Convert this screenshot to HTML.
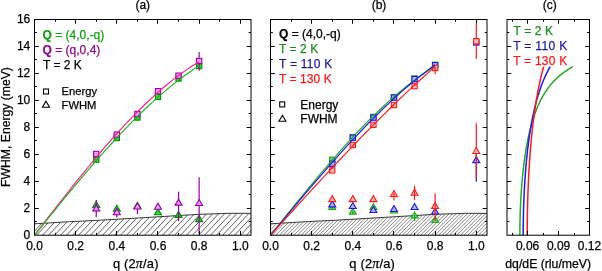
<!DOCTYPE html>
<html><head><meta charset="utf-8"><style>html,body{margin:0;padding:0;background:#fff;}svg{display:block;will-change:transform;}</style></head>
<body>
<svg width="602" height="271" viewBox="0 0 602 271" font-family='"Liberation Sans", sans-serif'>
<rect width="602" height="271" fill="#fff"/>
<clipPath id="ca"><polygon points="34.5,235.2 34.5,223.8 69.49,221.7 100.36,220.2 149.75,217.3 199.14,214.3 230.01,213.3 251,213.4 251,235.2"/></clipPath>
<g clip-path="url(#ca)"><path d="M0.6,235.2l27.98,-30M6.6,235.2l27.98,-30M12.6,235.2l27.98,-30M18.6,235.2l27.98,-30M24.6,235.2l27.98,-30M30.6,235.2l27.98,-30M36.6,235.2l27.98,-30M42.6,235.2l27.98,-30M48.6,235.2l27.98,-30M54.6,235.2l27.98,-30M60.6,235.2l27.98,-30M66.6,235.2l27.98,-30M72.6,235.2l27.98,-30M78.6,235.2l27.98,-30M84.6,235.2l27.98,-30M90.6,235.2l27.98,-30M96.6,235.2l27.98,-30M102.6,235.2l27.98,-30M108.6,235.2l27.98,-30M114.6,235.2l27.98,-30M120.6,235.2l27.98,-30M126.6,235.2l27.98,-30M132.6,235.2l27.98,-30M138.6,235.2l27.98,-30M144.6,235.2l27.98,-30M150.6,235.2l27.98,-30M156.6,235.2l27.98,-30M162.6,235.2l27.98,-30M168.6,235.2l27.98,-30M174.6,235.2l27.98,-30M180.6,235.2l27.98,-30M186.6,235.2l27.98,-30M192.6,235.2l27.98,-30M198.6,235.2l27.98,-30M204.6,235.2l27.98,-30M210.6,235.2l27.98,-30M216.6,235.2l27.98,-30M222.6,235.2l27.98,-30M228.6,235.2l27.98,-30M234.6,235.2l27.98,-30M240.6,235.2l27.98,-30M246.6,235.2l27.98,-30" stroke="#2a2a2a" stroke-width="0.75" fill="none"/></g>
<polyline points="34.5,223.8 69.49,221.7 100.36,220.2 149.75,217.3 199.14,214.3 230.01,213.3 251,213.4" fill="none" stroke="#222" stroke-width="0.9"/>
<path d="M96.24,201.4L99.74,207.4L92.74,207.4Z" fill="#33d633" stroke="#008c00" stroke-width="1.1" stroke-linejoin="miter"/>
<path d="M116.82,205.3L120.32,211.3L113.32,211.3Z" fill="#33d633" stroke="#008c00" stroke-width="1.1" stroke-linejoin="miter"/>
<path d="M137.4,202.3L140.9,208.3L133.9,208.3Z" fill="#33d633" stroke="#008c00" stroke-width="1.1" stroke-linejoin="miter"/>
<path d="M157.98,208.8L161.48,214.8L154.48,214.8Z" fill="#33d633" stroke="#008c00" stroke-width="1.1" stroke-linejoin="miter"/>
<path d="M178.56,211.4L182.06,217.4L175.06,217.4Z" fill="#33d633" stroke="#008c00" stroke-width="1.1" stroke-linejoin="miter"/>
<path d="M199.14,215.6L202.64,221.6L195.64,221.6Z" fill="#33d633" stroke="#008c00" stroke-width="1.1" stroke-linejoin="miter"/>
<path d="M178.56,214V221" stroke="#008c00" stroke-width="1.2"/>
<path d="M96.24,200V217.3" stroke="#9900aa" stroke-width="1.2"/>
<path d="M116.82,208V217.3" stroke="#9900aa" stroke-width="1.2"/>
<path d="M137.4,206V213.9" stroke="#9900aa" stroke-width="1.2"/>
<path d="M178.56,191.7V221" stroke="#9900aa" stroke-width="1.2"/>
<path d="M199.14,177.2V234" stroke="#9900aa" stroke-width="1.2"/>
<path d="M96.24,204.9L99.74,210.9L92.74,210.9Z" fill="#f39af3" stroke="#9900aa" stroke-width="1.1" stroke-linejoin="miter"/>
<path d="M116.82,208.7L120.32,214.7L113.32,214.7Z" fill="#f39af3" stroke="#9900aa" stroke-width="1.1" stroke-linejoin="miter"/>
<path d="M137.4,203L140.9,209L133.9,209Z" fill="#f39af3" stroke="#9900aa" stroke-width="1.1" stroke-linejoin="miter"/>
<path d="M157.98,203.2L161.48,209.2L154.48,209.2Z" fill="#f39af3" stroke="#9900aa" stroke-width="1.1" stroke-linejoin="miter"/>
<path d="M178.56,199.1L182.06,205.1L175.06,205.1Z" fill="#f39af3" stroke="#9900aa" stroke-width="1.1" stroke-linejoin="miter"/>
<path d="M199.14,199.5L202.64,205.5L195.64,205.5Z" fill="#f39af3" stroke="#9900aa" stroke-width="1.1" stroke-linejoin="miter"/>
<rect x="93.59" y="156.95" width="5.3" height="5.3" fill="#33d633" stroke="#008c00" stroke-width="1.1"/>
<rect x="114.17" y="135.35" width="5.3" height="5.3" fill="#33d633" stroke="#008c00" stroke-width="1.1"/>
<rect x="134.75" y="114.85" width="5.3" height="5.3" fill="#33d633" stroke="#008c00" stroke-width="1.1"/>
<rect x="155.33" y="94.25" width="5.3" height="5.3" fill="#33d633" stroke="#008c00" stroke-width="1.1"/>
<rect x="175.91" y="75.85" width="5.3" height="5.3" fill="#33d633" stroke="#008c00" stroke-width="1.1"/>
<rect x="196.49" y="63.45" width="5.3" height="5.3" fill="#33d633" stroke="#008c00" stroke-width="1.1"/>
<path d="M199.14,52V70.7" stroke="#9900aa" stroke-width="1.2"/>
<rect x="93.59" y="151.35" width="5.3" height="5.3" fill="#f39af3" stroke="#9900aa" stroke-width="1.1"/>
<rect x="114.17" y="131.95" width="5.3" height="5.3" fill="#f39af3" stroke="#9900aa" stroke-width="1.1"/>
<rect x="134.75" y="111.35" width="5.3" height="5.3" fill="#f39af3" stroke="#9900aa" stroke-width="1.1"/>
<rect x="155.33" y="88.55" width="5.3" height="5.3" fill="#f39af3" stroke="#9900aa" stroke-width="1.1"/>
<rect x="175.91" y="73.05" width="5.3" height="5.3" fill="#f39af3" stroke="#9900aa" stroke-width="1.1"/>
<rect x="196.49" y="58.35" width="5.3" height="5.3" fill="#f39af3" stroke="#9900aa" stroke-width="1.1"/>
<path d="M34.5,235.2 L38.62,229.86 L42.73,224.53 L46.85,219.2 L50.96,213.88 L55.08,208.59 L59.2,203.31 L63.31,198.05 L67.43,192.82 L71.54,187.63 L75.66,182.47 L79.78,177.34 L83.89,172.27 L88.01,167.24 L92.12,162.26 L96.24,157.33 L100.36,152.46 L104.47,147.66 L108.59,142.91 L112.7,138.24 L116.82,133.64 L120.94,129.12 L125.05,124.67 L129.17,120.31 L133.28,116.04 L137.4,111.85 L141.52,107.75 L145.63,103.75 L149.75,99.85 L153.86,96.05 L157.98,92.35 L162.1,88.76 L166.21,85.28 L170.33,81.91 L174.44,78.65 L178.56,75.52 L182.68,72.5 L186.79,69.6 L190.91,66.82 L195.02,64.18 L199.14,61.65" stroke="#ff1a8c" stroke-width="1.15" fill="none"/>
<path d="M34.5,235.2 L38.62,230.11 L42.73,225.02 L46.85,219.93 L50.96,214.86 L55.08,209.8 L59.2,204.76 L63.31,199.73 L67.43,194.73 L71.54,189.76 L75.66,184.82 L79.78,179.91 L83.89,175.04 L88.01,170.21 L92.12,165.42 L96.24,160.68 L100.36,155.99 L104.47,151.35 L108.59,146.76 L112.7,142.24 L116.82,137.78 L120.94,133.38 L125.05,129.05 L129.17,124.79 L133.28,120.6 L137.4,116.49 L141.52,112.46 L145.63,108.51 L149.75,104.64 L153.86,100.87 L157.98,97.18 L162.1,93.58 L166.21,90.08 L170.33,86.67 L174.44,83.36 L178.56,80.16 L182.68,77.05 L186.79,74.06 L190.91,71.16 L195.02,68.38 L199.14,65.71" stroke="#1db31d" stroke-width="1.15" fill="none"/>
<rect x="34.5" y="19.5" width="216.5" height="215.7" fill="none" stroke="#000" stroke-width="1.0"/>
<path d="M75.5,235.2v-4.2M75.5,19.5v4.2M116.5,235.2v-4.2M116.5,19.5v4.2M157.5,235.2v-4.2M157.5,19.5v4.2M199.5,235.2v-4.2M199.5,19.5v4.2M240.5,235.2v-4.2M240.5,19.5v4.2M55.5,235.2v-2.3M55.5,19.5v2.3M96.5,235.2v-2.3M96.5,19.5v2.3M137.5,235.2v-2.3M137.5,19.5v2.3M178.5,235.2v-2.3M178.5,19.5v2.3M219.5,235.2v-2.3M219.5,19.5v2.3M34.5,221.5h2.3M251,221.5h-2.3M34.5,208.5h4.3M251,208.5h-4.3M34.5,194.5h2.3M251,194.5h-2.3M34.5,181.5h4.3M251,181.5h-4.3M34.5,167.5h2.3M251,167.5h-2.3M34.5,154.5h4.3M251,154.5h-4.3M34.5,140.5h2.3M251,140.5h-2.3M34.5,127.5h4.3M251,127.5h-4.3M34.5,113.5h2.3M251,113.5h-2.3M34.5,100.5h4.3M251,100.5h-4.3M34.5,86.5h2.3M251,86.5h-2.3M34.5,73.5h4.3M251,73.5h-4.3M34.5,59.5h2.3M251,59.5h-2.3M34.5,46.5h4.3M251,46.5h-4.3M34.5,32.5h2.3M251,32.5h-2.3" stroke="#000" stroke-width="1" fill="none"/>
<clipPath id="cb"><polygon points="270.5,235.2 270.5,223.8 305.49,221.7 336.36,220.2 385.75,217.3 435.14,214.3 466.01,213.3 487,213.4 487,235.2"/></clipPath>
<g clip-path="url(#cb)"><path d="M232.32,235.2l30,-30M235.94,235.2l30,-30M239.56,235.2l30,-30M243.18,235.2l30,-30M246.8,235.2l30,-30M250.42,235.2l30,-30M254.04,235.2l30,-30M257.66,235.2l30,-30M261.28,235.2l30,-30M264.9,235.2l30,-30M268.52,235.2l30,-30M272.14,235.2l30,-30M275.76,235.2l30,-30M279.38,235.2l30,-30M283,235.2l30,-30M286.62,235.2l30,-30M290.24,235.2l30,-30M293.86,235.2l30,-30M297.48,235.2l30,-30M301.1,235.2l30,-30M304.72,235.2l30,-30M308.34,235.2l30,-30M311.96,235.2l30,-30M315.58,235.2l30,-30M319.2,235.2l30,-30M322.82,235.2l30,-30M326.44,235.2l30,-30M330.06,235.2l30,-30M333.68,235.2l30,-30M337.3,235.2l30,-30M340.92,235.2l30,-30M344.54,235.2l30,-30M348.16,235.2l30,-30M351.78,235.2l30,-30M355.4,235.2l30,-30M359.02,235.2l30,-30M362.64,235.2l30,-30M366.26,235.2l30,-30M369.88,235.2l30,-30M373.5,235.2l30,-30M377.12,235.2l30,-30M380.74,235.2l30,-30M384.36,235.2l30,-30M387.98,235.2l30,-30M391.6,235.2l30,-30M395.22,235.2l30,-30M398.84,235.2l30,-30M402.46,235.2l30,-30M406.08,235.2l30,-30M409.7,235.2l30,-30M413.32,235.2l30,-30M416.94,235.2l30,-30M420.56,235.2l30,-30M424.18,235.2l30,-30M427.8,235.2l30,-30M431.42,235.2l30,-30M435.04,235.2l30,-30M438.66,235.2l30,-30M442.28,235.2l30,-30M445.9,235.2l30,-30M449.52,235.2l30,-30M453.14,235.2l30,-30M456.76,235.2l30,-30M460.38,235.2l30,-30M464,235.2l30,-30M467.62,235.2l30,-30M471.24,235.2l30,-30M474.86,235.2l30,-30M478.48,235.2l30,-30M482.1,235.2l30,-30M485.72,235.2l30,-30" stroke="#333" stroke-width="0.6" fill="none"/></g>
<polyline points="270.5,223.8 305.49,221.7 336.36,220.2 385.75,217.3 435.14,214.3 466.01,213.3 487,213.4" fill="none" stroke="#222" stroke-width="0.9"/>
<path d="M332.24,203.5L335.74,209.5L328.74,209.5Z" fill="#70d070" stroke="#1ea81e" stroke-width="1.1" stroke-linejoin="miter"/>
<path d="M352.82,208.3L356.32,214.3L349.32,214.3Z" fill="#70d070" stroke="#1ea81e" stroke-width="1.1" stroke-linejoin="miter"/>
<path d="M373.4,203.5L376.9,209.5L369.9,209.5Z" fill="#70d070" stroke="#1ea81e" stroke-width="1.1" stroke-linejoin="miter"/>
<path d="M393.98,207L397.48,213L390.48,213Z" fill="#70d070" stroke="#1ea81e" stroke-width="1.1" stroke-linejoin="miter"/>
<path d="M414.56,212L418.06,218L411.06,218Z" fill="#70d070" stroke="#1ea81e" stroke-width="1.1" stroke-linejoin="miter"/>
<path d="M435.14,216.5L438.64,222.5L431.64,222.5Z" fill="#70d070" stroke="#1ea81e" stroke-width="1.1" stroke-linejoin="miter"/>
<path d="M332.24,206V209.9" stroke="#1ea81e" stroke-width="1.2"/>
<path d="M352.82,211V214" stroke="#1ea81e" stroke-width="1.2"/>
<path d="M414.56,215V221" stroke="#1ea81e" stroke-width="1.2"/>
<path d="M332.24,200.9L335.74,206.9L328.74,206.9Z" fill="#b0b0f8" stroke="#1a1ae0" stroke-width="1.1" stroke-linejoin="miter"/>
<path d="M352.82,202.5L356.32,208.5L349.32,208.5Z" fill="#b0b0f8" stroke="#1a1ae0" stroke-width="1.1" stroke-linejoin="miter"/>
<path d="M373.4,206.5L376.9,212.5L369.9,212.5Z" fill="#b0b0f8" stroke="#1a1ae0" stroke-width="1.1" stroke-linejoin="miter"/>
<path d="M393.98,205.5L397.48,211.5L390.48,211.5Z" fill="#b0b0f8" stroke="#1a1ae0" stroke-width="1.1" stroke-linejoin="miter"/>
<path d="M414.56,203.5L418.06,209.5L411.06,209.5Z" fill="#b0b0f8" stroke="#1a1ae0" stroke-width="1.1" stroke-linejoin="miter"/>
<path d="M435.14,208L438.64,214L431.64,214Z" fill="#b0b0f8" stroke="#1a1ae0" stroke-width="1.1" stroke-linejoin="miter"/>
<path d="M332.24,195.6L335.74,201.6L328.74,201.6Z" fill="#ffb8b8" stroke="#ff1a1a" stroke-width="1.1" stroke-linejoin="miter"/>
<path d="M352.82,195.6L356.32,201.6L349.32,201.6Z" fill="#ffb8b8" stroke="#ff1a1a" stroke-width="1.1" stroke-linejoin="miter"/>
<path d="M373.4,195.6L376.9,201.6L369.9,201.6Z" fill="#ffb8b8" stroke="#ff1a1a" stroke-width="1.1" stroke-linejoin="miter"/>
<path d="M393.98,190.5L397.48,196.5L390.48,196.5Z" fill="#ffb8b8" stroke="#ff1a1a" stroke-width="1.1" stroke-linejoin="miter"/>
<path d="M414.56,189.2L418.06,195.2L411.06,195.2Z" fill="#ffb8b8" stroke="#ff1a1a" stroke-width="1.1" stroke-linejoin="miter"/>
<path d="M435.14,202.5L438.64,208.5L431.64,208.5Z" fill="#ffb8b8" stroke="#ff1a1a" stroke-width="1.1" stroke-linejoin="miter"/>
<path d="M393.98,193V200.5" stroke="#ff1a1a" stroke-width="1.2"/>
<path d="M414.56,185.5V199.9" stroke="#ff1a1a" stroke-width="1.2"/>
<path d="M435.14,193.3V221" stroke="#ff1a1a" stroke-width="1.2"/>
<path d="M476.3,150V181.7" stroke="#1a1ae0" stroke-width="1.2"/>
<path d="M476.3,156.6L479.8,162.6L472.8,162.6Z" fill="#b0b0f8" stroke="#1a1ae0" stroke-width="1.1" stroke-linejoin="miter"/>
<path d="M476.3,123.3V178.4" stroke="#ff1a1a" stroke-width="1.2"/>
<path d="M476.3,147.5L479.8,153.5L472.8,153.5Z" fill="#ffb8b8" stroke="#ff1a1a" stroke-width="1.1" stroke-linejoin="miter"/>
<rect x="329.59" y="157.15" width="5.3" height="5.3" fill="#70d070" stroke="#1ea81e" stroke-width="1.1"/>
<rect x="350.17" y="134.55" width="5.3" height="5.3" fill="#70d070" stroke="#1ea81e" stroke-width="1.1"/>
<rect x="370.75" y="114.35" width="5.3" height="5.3" fill="#70d070" stroke="#1ea81e" stroke-width="1.1"/>
<rect x="391.33" y="94.55" width="5.3" height="5.3" fill="#70d070" stroke="#1ea81e" stroke-width="1.1"/>
<rect x="411.91" y="75.85" width="5.3" height="5.3" fill="#70d070" stroke="#1ea81e" stroke-width="1.1"/>
<rect x="432.49" y="62.15" width="5.3" height="5.3" fill="#70d070" stroke="#1ea81e" stroke-width="1.1"/>
<rect x="329.59" y="161.05" width="5.3" height="5.3" fill="#b0b0f8" stroke="#1a1ae0" stroke-width="1.1"/>
<rect x="350.17" y="135.05" width="5.3" height="5.3" fill="#b0b0f8" stroke="#1a1ae0" stroke-width="1.1"/>
<rect x="370.75" y="114.95" width="5.3" height="5.3" fill="#b0b0f8" stroke="#1a1ae0" stroke-width="1.1"/>
<rect x="391.33" y="94.95" width="5.3" height="5.3" fill="#b0b0f8" stroke="#1a1ae0" stroke-width="1.1"/>
<rect x="411.91" y="76.45" width="5.3" height="5.3" fill="#b0b0f8" stroke="#1a1ae0" stroke-width="1.1"/>
<rect x="432.49" y="62.55" width="5.3" height="5.3" fill="#b0b0f8" stroke="#1a1ae0" stroke-width="1.1"/>
<rect x="329.59" y="167.75" width="5.3" height="5.3" fill="#ffb8b8" stroke="#ff1a1a" stroke-width="1.1"/>
<rect x="350.17" y="142.35" width="5.3" height="5.3" fill="#ffb8b8" stroke="#ff1a1a" stroke-width="1.1"/>
<rect x="370.75" y="122.25" width="5.3" height="5.3" fill="#ffb8b8" stroke="#ff1a1a" stroke-width="1.1"/>
<rect x="391.33" y="102.35" width="5.3" height="5.3" fill="#ffb8b8" stroke="#ff1a1a" stroke-width="1.1"/>
<rect x="411.91" y="83.45" width="5.3" height="5.3" fill="#ffb8b8" stroke="#ff1a1a" stroke-width="1.1"/>
<rect x="432.49" y="65.35" width="5.3" height="5.3" fill="#ffb8b8" stroke="#ff1a1a" stroke-width="1.1"/>
<path d="M435.14,67V74.3" stroke="#ff1a1a" stroke-width="1.2"/>
<rect x="473.65" y="39.85" width="5.3" height="5.3" fill="#b0b0f8" stroke="#1a1ae0" stroke-width="1.1"/>
<path d="M476.3,24.1V58.9" stroke="#ff1a1a" stroke-width="1.2"/>
<rect x="473.65" y="38.55" width="5.3" height="5.3" fill="#ffb8b8" stroke="#ff1a1a" stroke-width="1.1"/>
<path d="M270.5,235.2 L274.62,230.05 L278.73,224.91 L282.85,219.78 L286.96,214.65 L291.08,209.54 L295.2,204.45 L299.31,199.38 L303.43,194.34 L307.54,189.32 L311.66,184.34 L315.78,179.4 L319.89,174.49 L324.01,169.63 L328.12,164.81 L332.24,160.05 L336.36,155.33 L340.47,150.68 L344.59,146.08 L348.7,141.55 L352.82,137.09 L356.94,132.69 L361.05,128.37 L365.17,124.12 L369.28,119.96 L373.4,115.87 L377.52,111.88 L381.63,107.96 L385.75,104.14 L389.86,100.42 L393.98,96.79 L398.1,93.25 L402.21,89.82 L406.33,86.49 L410.44,83.27 L414.56,80.16 L418.68,77.16 L422.79,74.27 L426.91,71.49 L431.02,68.83 L435.14,66.29" stroke="#1ea81e" stroke-width="1.15" fill="none"/>
<path d="M270.5,235.2 L274.62,230.25 L278.73,225.3 L282.85,220.36 L286.96,215.42 L291.08,210.5 L295.2,205.58 L299.31,200.69 L303.43,195.81 L307.54,190.96 L311.66,186.13 L315.78,181.32 L319.89,176.55 L324.01,171.81 L328.12,167.1 L332.24,162.43 L336.36,157.8 L340.47,153.21 L344.59,148.67 L348.7,144.18 L352.82,139.73 L356.94,135.34 L361.05,131 L365.17,126.72 L369.28,122.5 L373.4,118.33 L377.52,114.24 L381.63,110.21 L385.75,106.25 L389.86,102.36 L393.98,98.54 L398.1,94.79 L402.21,91.13 L406.33,87.54 L410.44,84.03 L414.56,80.61 L418.68,77.27 L422.79,74.02 L426.91,70.85 L431.02,67.78 L435.14,64.79" stroke="#1a1ae0" stroke-width="1.15" fill="none"/>
<path d="M270.5,235.2 L274.62,230.66 L278.73,226.12 L282.85,221.58 L286.96,217.04 L291.08,212.51 L295.2,207.99 L299.31,203.47 L303.43,198.97 L307.54,194.47 L311.66,189.98 L315.78,185.51 L319.89,181.05 L324.01,176.6 L328.12,172.18 L332.24,167.76 L336.36,163.37 L340.47,159 L344.59,154.65 L348.7,150.32 L352.82,146.01 L356.94,141.73 L361.05,137.47 L365.17,133.24 L369.28,129.04 L373.4,124.87 L377.52,120.73 L381.63,116.62 L385.75,112.54 L389.86,108.5 L393.98,104.49 L398.1,100.52 L402.21,96.58 L406.33,92.68 L410.44,88.83 L414.56,85.01 L418.68,81.23 L422.79,77.5 L426.91,73.81 L431.02,70.16 L435.14,66.56" stroke="#ff1a1a" stroke-width="1.15" fill="none"/>
<rect x="270.5" y="19.5" width="216.5" height="215.7" fill="none" stroke="#000" stroke-width="1.0"/>
<path d="M311.5,235.2v-4.2M311.5,19.5v4.2M352.5,235.2v-4.2M352.5,19.5v4.2M393.5,235.2v-4.2M393.5,19.5v4.2M435.5,235.2v-4.2M435.5,19.5v4.2M476.5,235.2v-4.2M476.5,19.5v4.2M291.5,235.2v-2.3M291.5,19.5v2.3M332.5,235.2v-2.3M332.5,19.5v2.3M373.5,235.2v-2.3M373.5,19.5v2.3M414.5,235.2v-2.3M414.5,19.5v2.3M455.5,235.2v-2.3M455.5,19.5v2.3M270.5,221.5h2.3M487,221.5h-2.3M270.5,208.5h4.3M487,208.5h-4.3M270.5,194.5h2.3M487,194.5h-2.3M270.5,181.5h4.3M487,181.5h-4.3M270.5,167.5h2.3M487,167.5h-2.3M270.5,154.5h4.3M487,154.5h-4.3M270.5,140.5h2.3M487,140.5h-2.3M270.5,127.5h4.3M487,127.5h-4.3M270.5,113.5h2.3M487,113.5h-2.3M270.5,100.5h4.3M487,100.5h-4.3M270.5,86.5h2.3M487,86.5h-2.3M270.5,73.5h4.3M487,73.5h-4.3M270.5,59.5h2.3M487,59.5h-2.3M270.5,46.5h4.3M487,46.5h-4.3M270.5,32.5h2.3M487,32.5h-2.3" stroke="#000" stroke-width="1" fill="none"/>
<path d="M519.89,235.2 L519.9,232.39 L519.91,229.58 L519.94,226.77 L519.98,223.97 L520.03,221.16 L520.09,218.35 L520.17,215.54 L520.25,212.73 L520.35,209.92 L520.46,207.12 L520.58,204.31 L520.71,201.5 L520.86,198.69 L521.02,195.88 L521.2,193.07 L521.38,190.27 L521.58,187.46 L521.8,184.65 L522.03,181.84 L522.28,179.03 L522.54,176.22 L522.82,173.42 L523.12,170.61 L523.43,167.8 L523.77,164.99 L524.12,162.18 L524.5,159.38 L524.9,156.57 L525.32,153.76 L525.76,150.95 L526.23,148.14 L526.73,145.33 L527.25,142.52 L527.81,139.72 L528.4,136.91 L529.03,134.1 L529.69,131.29 L530.39,128.48 L531.14,125.67 L531.93,122.87 L532.77,120.06 L533.67,117.25 L534.63,114.44 L535.66,111.63 L536.75,108.82 L537.93,106.02 L539.2,103.21 L540.56,100.4 L542.04,97.59 L543.64,94.78 L545.38,91.97 L547.27,89.17 L549.36,86.36 L551.65,83.55 L554.2,80.74 L557.04,77.93 L560.23,75.12 L563.85,72.32 L567.99,69.51 L572.79,66.7" stroke="#22aa22" stroke-width="1.5" fill="none"/>
<path d="M523.19,235.2 L523.19,232.39 L523.21,229.58 L523.23,226.77 L523.26,223.97 L523.3,221.16 L523.35,218.35 L523.4,215.54 L523.47,212.73 L523.54,209.92 L523.62,207.12 L523.72,204.31 L523.82,201.5 L523.93,198.69 L524.05,195.88 L524.18,193.07 L524.32,190.27 L524.47,187.46 L524.63,184.65 L524.8,181.84 L524.98,179.03 L525.18,176.22 L525.38,173.42 L525.6,170.61 L525.83,167.8 L526.07,164.99 L526.33,162.18 L526.59,159.38 L526.87,156.57 L527.17,153.76 L527.48,150.95 L527.81,148.14 L528.15,145.33 L528.51,142.52 L528.89,139.72 L529.29,136.91 L529.7,134.1 L530.14,131.29 L530.6,128.48 L531.08,125.67 L531.58,122.87 L532.11,120.06 L532.66,117.25 L533.24,114.44 L533.86,111.63 L534.5,108.82 L535.18,106.02 L535.89,103.21 L536.65,100.4 L537.44,97.59 L538.28,94.78 L539.17,91.97 L540.11,89.17 L541.1,86.36 L542.16,83.55 L543.28,80.74 L544.48,77.93 L545.75,75.12 L547.12,72.32 L548.58,69.51 L550.15,66.7" stroke="#1a1af0" stroke-width="1.5" fill="none"/>
<path d="M527.21,235.2 L527.22,232.39 L527.23,229.58 L527.24,226.77 L527.26,223.97 L527.29,221.16 L527.33,218.35 L527.37,215.54 L527.42,212.73 L527.47,209.92 L527.54,207.12 L527.61,204.31 L527.68,201.5 L527.76,198.69 L527.85,195.88 L527.95,193.07 L528.05,190.27 L528.16,187.46 L528.28,184.65 L528.41,181.84 L528.54,179.03 L528.68,176.22 L528.83,173.42 L528.99,170.61 L529.15,167.8 L529.33,164.99 L529.51,162.18 L529.7,159.38 L529.9,156.57 L530.11,153.76 L530.33,150.95 L530.56,148.14 L530.8,145.33 L531.05,142.52 L531.31,139.72 L531.58,136.91 L531.86,134.1 L532.16,131.29 L532.46,128.48 L532.78,125.67 L533.11,122.87 L533.46,120.06 L533.82,117.25 L534.19,114.44 L534.58,111.63 L534.99,108.82 L535.41,106.02 L535.85,103.21 L536.31,100.4 L536.79,97.59 L537.28,94.78 L537.8,91.97 L538.34,89.17 L538.9,86.36 L539.49,83.55 L540.11,80.74 L540.75,77.93 L541.42,75.12 L542.12,72.32 L542.85,69.51 L543.62,66.7" stroke="#ff1a1a" stroke-width="1.5" fill="none"/>
<rect x="507" y="19.5" width="82.5" height="215.7" fill="none" stroke="#000" stroke-width="1.0"/>
<path d="M527.5,235.2v-4.2M527.5,19.5v4.2M558.5,235.2v-4.2M558.5,19.5v4.2M589.5,235.2v-4.2M589.5,19.5v4.2M512.5,235.2v-2.3M512.5,19.5v2.3M543.5,235.2v-2.3M543.5,19.5v2.3M574.5,235.2v-2.3M574.5,19.5v2.3M507,221.5h2.3M589.5,221.5h-2.3M507,208.5h4.3M589.5,208.5h-4.3M507,194.5h2.3M589.5,194.5h-2.3M507,181.5h4.3M589.5,181.5h-4.3M507,167.5h2.3M589.5,167.5h-2.3M507,154.5h4.3M589.5,154.5h-4.3M507,140.5h2.3M589.5,140.5h-2.3M507,127.5h4.3M589.5,127.5h-4.3M507,113.5h2.3M589.5,113.5h-2.3M507,100.5h4.3M589.5,100.5h-4.3M507,86.5h2.3M589.5,86.5h-2.3M507,73.5h4.3M589.5,73.5h-4.3M507,59.5h2.3M589.5,59.5h-2.3M507,46.5h4.3M589.5,46.5h-4.3M507,32.5h2.3M589.5,32.5h-2.3" stroke="#000" stroke-width="1" fill="none"/>
<text x="30.3" y="238.8" font-size="12" fill="#000" stroke="#000" stroke-width="0.25" text-anchor="end" >0</text>
<text x="30.3" y="211.84" font-size="12" fill="#000" stroke="#000" stroke-width="0.25" text-anchor="end" >2</text>
<text x="30.3" y="184.88" font-size="12" fill="#000" stroke="#000" stroke-width="0.25" text-anchor="end" >4</text>
<text x="30.3" y="157.92" font-size="12" fill="#000" stroke="#000" stroke-width="0.25" text-anchor="end" >6</text>
<text x="30.3" y="130.96" font-size="12" fill="#000" stroke="#000" stroke-width="0.25" text-anchor="end" >8</text>
<text x="30.3" y="104" font-size="12" fill="#000" stroke="#000" stroke-width="0.25" text-anchor="end" >10</text>
<text x="30.3" y="77.04" font-size="12" fill="#000" stroke="#000" stroke-width="0.25" text-anchor="end" >12</text>
<text x="30.3" y="50.08" font-size="12" fill="#000" stroke="#000" stroke-width="0.25" text-anchor="end" >14</text>
<text x="30.3" y="23.12" font-size="12" fill="#000" stroke="#000" stroke-width="0.25" text-anchor="end" >16</text>
<text x="34.5" y="249.8" font-size="12" fill="#000" stroke="#000" stroke-width="0.25" text-anchor="middle" >0.0</text>
<text x="270.5" y="249.8" font-size="12" fill="#000" stroke="#000" stroke-width="0.25" text-anchor="middle" >0.0</text>
<text x="75.66" y="249.8" font-size="12" fill="#000" stroke="#000" stroke-width="0.25" text-anchor="middle" >0.2</text>
<text x="311.66" y="249.8" font-size="12" fill="#000" stroke="#000" stroke-width="0.25" text-anchor="middle" >0.2</text>
<text x="116.82" y="249.8" font-size="12" fill="#000" stroke="#000" stroke-width="0.25" text-anchor="middle" >0.4</text>
<text x="352.82" y="249.8" font-size="12" fill="#000" stroke="#000" stroke-width="0.25" text-anchor="middle" >0.4</text>
<text x="157.98" y="249.8" font-size="12" fill="#000" stroke="#000" stroke-width="0.25" text-anchor="middle" >0.6</text>
<text x="393.98" y="249.8" font-size="12" fill="#000" stroke="#000" stroke-width="0.25" text-anchor="middle" >0.6</text>
<text x="199.14" y="249.8" font-size="12" fill="#000" stroke="#000" stroke-width="0.25" text-anchor="middle" >0.8</text>
<text x="435.14" y="249.8" font-size="12" fill="#000" stroke="#000" stroke-width="0.25" text-anchor="middle" >0.8</text>
<text x="240.3" y="249.8" font-size="12" fill="#000" stroke="#000" stroke-width="0.25" text-anchor="middle" >1.0</text>
<text x="476.3" y="249.8" font-size="12" fill="#000" stroke="#000" stroke-width="0.25" text-anchor="middle" >1.0</text>
<text x="527.62" y="249.8" font-size="12" fill="#000" stroke="#000" stroke-width="0.25" text-anchor="middle" >0.06</text>
<text x="558.56" y="249.8" font-size="12" fill="#000" stroke="#000" stroke-width="0.25" text-anchor="middle" >0.09</text>
<text x="589.5" y="249.8" font-size="12" fill="#000" stroke="#000" stroke-width="0.25" text-anchor="middle" >0.12</text>
<text x="135.7" y="268" font-size="12.9" fill="#000" stroke="#000" stroke-width="0.25" text-anchor="middle" textLength="45.5" lengthAdjust="spacing">q (2<tspan font-family="&quot;Liberation Serif&quot;, serif" font-style="italic" font-size="14">&#960;</tspan>/a)</text>
<text x="372.1" y="268" font-size="12.9" fill="#000" stroke="#000" stroke-width="0.25" text-anchor="middle" textLength="45.5" lengthAdjust="spacing">q (2<tspan font-family="&quot;Liberation Serif&quot;, serif" font-style="italic" font-size="14">&#960;</tspan>/a)</text>
<text x="548.2" y="268" font-size="12.25" fill="#000" stroke="#000" stroke-width="0.25" text-anchor="middle" >dq/dE (rlu/meV)</text>
<text x="142.8" y="9.3" font-size="12" fill="#000" stroke="#000" stroke-width="0.25" text-anchor="middle" >(a)</text>
<text x="379" y="9.3" font-size="12" fill="#000" stroke="#000" stroke-width="0.25" text-anchor="middle" >(b)</text>
<text x="549.8" y="9.3" font-size="12" fill="#000" stroke="#000" stroke-width="0.25" text-anchor="middle" >(c)</text>
<text transform="translate(9.7,127.0) rotate(-90)" font-size="12.2" text-anchor="middle" stroke="#000" stroke-width="0.25">FWHM, Energy (meV)</text>
<text x="42.6" y="38.9" font-size="12" fill="#11a011" stroke="#11a011" stroke-width="0.25"><tspan font-weight="bold">Q</tspan> = (4,0,-q)</text>
<text x="42.6" y="53.5" font-size="12" fill="#8a0a8a" stroke="#8a0a8a" stroke-width="0.25"><tspan font-weight="bold">Q</tspan> = (q,0,4)</text>
<text x="43" y="68.8" font-size="12" fill="#000" stroke="#000" stroke-width="0.25" text-anchor="start" >T = 2 K</text>
<rect x="43.5" y="89" width="5" height="5" fill="none" stroke="#000" stroke-width="1.1"/>
<path d="M46,101.2L49.5,107.2L42.5,107.2Z" fill="none" stroke="#000" stroke-width="1.1" stroke-linejoin="miter"/>
<text x="61.6" y="95.2" font-size="11.2" fill="#000" stroke="#000" stroke-width="0.25" text-anchor="start" >Energy</text>
<text x="61.6" y="108.6" font-size="11.2" fill="#000" stroke="#000" stroke-width="0.25" text-anchor="start" >FWHM</text>
<text x="279" y="37.9" font-size="12" fill="#000" stroke="#000" stroke-width="0.25"><tspan font-weight="bold">Q</tspan> = (4,0,-q)</text>
<text x="279" y="53" font-size="12" fill="#1e8c1e" stroke="#1e8c1e" stroke-width="0.25" text-anchor="start" textLength="39.2" lengthAdjust="spacing">T = 2 K</text>
<text x="279" y="67.6" font-size="12" fill="#1a1aa8" stroke="#1a1aa8" stroke-width="0.25" text-anchor="start" textLength="53.2" lengthAdjust="spacing">T = 110 K</text>
<text x="279" y="82.5" font-size="12" fill="#ff1a1a" stroke="#ff1a1a" stroke-width="0.25" text-anchor="start" textLength="52.8" lengthAdjust="spacing">T = 130 K</text>
<rect x="279.7" y="101.9" width="5" height="5" fill="none" stroke="#000" stroke-width="1.1"/>
<path d="M282.4,115.3L285.9,121.3L278.9,121.3Z" fill="none" stroke="#000" stroke-width="1.1" stroke-linejoin="miter"/>
<text x="300.3" y="109" font-size="12" fill="#000" stroke="#000" stroke-width="0.25" text-anchor="start" >Energy</text>
<text x="300.3" y="122.6" font-size="12" fill="#000" stroke="#000" stroke-width="0.25" text-anchor="start" >FWHM</text>
<text x="513.6" y="35.1" font-size="12" fill="#1e8c1e" stroke="#1e8c1e" stroke-width="0.25" text-anchor="start" textLength="39.4" lengthAdjust="spacing">T = 2 K</text>
<text x="513.2" y="50" font-size="12" fill="#1a1aa8" stroke="#1a1aa8" stroke-width="0.25" text-anchor="start" textLength="54.0" lengthAdjust="spacing">T = 110 K</text>
<text x="513.2" y="64.8" font-size="12" fill="#ff1a1a" stroke="#ff1a1a" stroke-width="0.25" text-anchor="start" textLength="54.0" lengthAdjust="spacing">T = 130 K</text>
</svg>
</body></html>
